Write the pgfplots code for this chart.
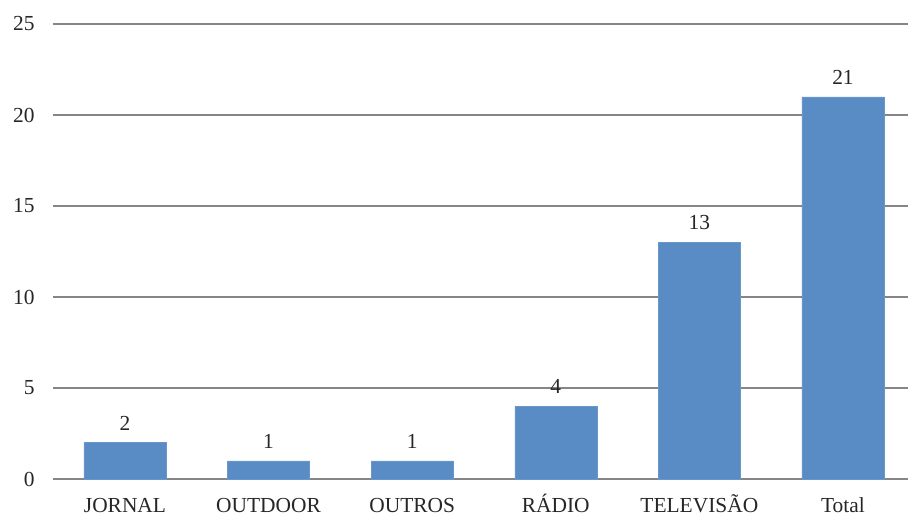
\documentclass[border=0pt]{standalone}
\usepackage{fontspec}
\setmainfont{Liberation Serif}
\usepackage{pgfplots}
\pgfplotsset{compat=1.18}
\definecolor{barblue}{RGB}{89,139,197}
\definecolor{gridgray}{RGB}{134,134,134}
\begin{document}
\begin{tikzpicture}
\path[use as bounding box] (-53bp,-38bp) rectangle (855bp,479bp);
\begin{axis}[
  at={(0,0)}, anchor=south west,
  scale only axis,
  width=855bp, height=455bp,
  xmin=-0.5014, xmax=5.453,
  ymin=0, ymax=25,
  ytick={0,5,...,25},
  xtick=data,
  xticklabels={JORNAL,OUTDOOR,OUTROS,RÁDIO,TELEVISÃO,Total},
  axis line style={draw=none},
  major tick length=0pt,
  ymajorgrids,
  grid style={gridgray, line width=1.3bp},
  tick label style={font=\fontsize{21.5}{24}\selectfont, text=black!85},
  /pgf/number format/assume math mode=true,
  yticklabel style={xshift=-15bp},
  xticklabel style={anchor=base, yshift=-33bp},
  ybar, bar width=82bp,
  nodes near coords,
  every node near coord/.append style={font=\fontsize{21.5}{24}\selectfont, text=black!85, yshift=9bp},
  clip=false,
]
\addplot[fill=barblue, draw=barblue!90!white, line width=0.5bp] coordinates {
  (0,2) (1,1) (2,1) (3,4) (4,13) (5,21)
};
\end{axis}
\end{tikzpicture}
\end{document}
